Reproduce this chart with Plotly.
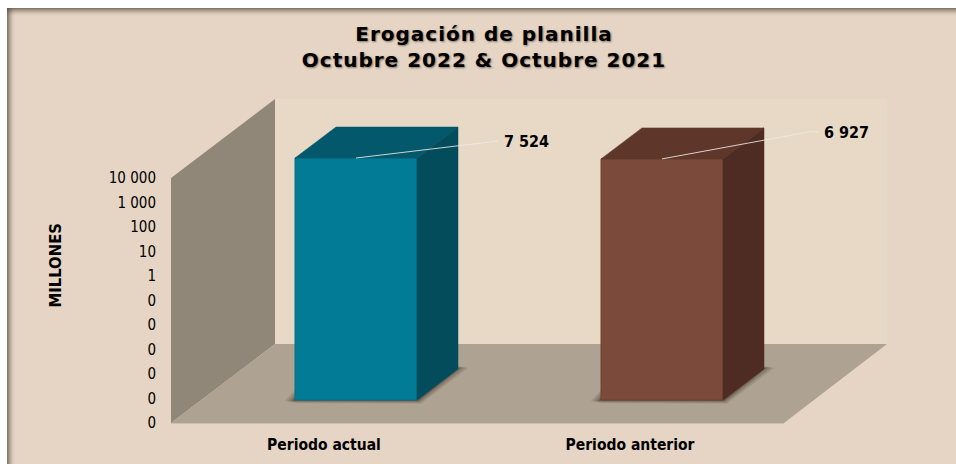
import plotly.graph_objects as go

categories = ["Periodo actual", "Periodo anterior"]
values = [7524, 6927]
value_labels = ["7 524", "6 927"]
tick_values = [1e4, 1e3, 1e2, 1e1, 1, 1e-1, 1e-2, 1e-3, 1e-4, 1e-5, 1e-6]
tick_labels = ["10 000", "1 000", "100", "10", "1", "0", "0", "0", "0", "0", "0"]
front_colors = ["#027C96", "#7B4A3A"]
edge_colors = ["#066E85", "#70422F"]
top_colors = ["#03596B", "#5E362A"]
side_colors = ["#024C5C", "#4F2C23"]
# leader end points in px relative to top-centre of each bar
leader_bends = [[(142, -17), (142, -17)], [(147, -27), (157, -27)]]
label_gap = [6, 5]
label_drop = [2, 2.5]

W, H = 956, 464
AX_BASE = 423       # px of 1e-6 on the wall-plane axis
DEC = 24.5          # px per decade
FRONT_SHIFT = 23    # front plane is this many px above the wall-plane axis
X0, XSTEP = 356, 306
BAR_W = 122 / XSTEP
DX, DY = 41, 31     # bar depth in px
BASE = 1e-6
LABEL_SHIFT = -32   # category labels sit left of the bars in the 3D projection
COND = "DejaVu Sans Condensed"


def xr(px):
    return (px - X0) / XSTEP


def up(v, px):
    return v * 10 ** (px / DEC)


def P(x, y):
    return x / W, 1 - y / H


def poly(points, color, opacity=1.0):
    s = "M " + " L ".join("%.5f,%.5f" % P(*p) for p in points) + " Z"
    return dict(type="path", xref="paper", yref="paper", path=s, fillcolor=color,
                line=dict(width=0), layer="below", opacity=opacity)


BG = "#E6D5C4"
shapes = [poly([(7, 8), (956, 8), (956, 464), (7, 464)], BG)]
# inner shadow of the frame
for i, a in enumerate([0.62, 0.5, 0.38, 0.28, 0.18, 0.1, 0.05, 0.02]):
    shapes.append(poly([(7, 8 + i), (956, 8 + i), (956, 9 + i), (7, 9 + i)], "#4A3F33", a))
    shapes.append(poly([(7 + i, 8), (8 + i, 8), (8 + i, 464), (7 + i, 464)], "#4A3F33", a))
# chart box
shapes.append(poly([(275, 99), (887, 99), (887, 344), (275, 344)], "#E7D9C6"))
shapes.append(poly([(171, 178), (275, 99), (275, 344), (171, 423)], "#918779"))
shapes.append(poly([(171, 423), (275, 344), (887, 344), (784, 423)], "#AEA292"))
shapes.append(poly([(171, 423), (784, 423), (784, 424), (171, 424)], "#CDBFAF"))
# soft contact shadows
for i in range(len(values)):
    c = X0 + XSTEP * i
    l, r = c - 61, c + 61
    for g, a in [(10, 0.14), (7, 0.2), (4, 0.28), (2, 0.36)]:
        shapes.append(poly([(l - g, 401), (l, 400 - g), (r, 400 - g), (r + DX, 369 - g * 0.3),
                            (r + DX + g, 367 + g * 0.1), (r + g * 0.4, 400 + g * 0.35),
                            (l, 400 + g * 0.3)], "#3A3025", a))

fig = go.Figure()
xs = list(range(len(values)))

# invisible trace that carries the tick axis
fig.add_trace(go.Scatter(x=[xr(171)] * len(tick_values), y=tick_values, mode="none",
                         hoverinfo="skip", showlegend=False))

# front faces
fig.add_trace(go.Bar(x=xs, y=values, base=[BASE] * len(values), width=BAR_W, yaxis="y2",
                     marker=dict(color=front_colors, line=dict(color=edge_colors, width=1)),
                     hoverinfo="skip", showlegend=False))

# top and side faces, derived from values
dx = DX / XSTEP
for i, v in enumerate(values):
    l, r = i - BAR_W / 2, i + BAR_W / 2
    fig.add_trace(go.Scatter(x=[l, r, r + dx, l + dx, l], y=[v, v, up(v, DY), up(v, DY), v],
                             yaxis="y2", mode="lines", fill="toself", fillcolor=top_colors[i],
                             line=dict(width=0.5, color=top_colors[i]), hoverinfo="skip", showlegend=False))
    fig.add_trace(go.Scatter(x=[r, r + dx, r + dx, r, r], y=[v, up(v, DY), up(BASE, DY), BASE, v],
                             yaxis="y2", mode="lines", fill="toself", fillcolor=side_colors[i],
                             line=dict(width=0.5, color=side_colors[i]), hoverinfo="skip", showlegend=False))

# leader lines and value labels
for i, v in enumerate(values):
    lx = [i] + [i + b[0] / XSTEP for b in leader_bends[i]]
    ly = [v] + [up(v, -b[1]) for b in leader_bends[i]]
    fig.add_trace(go.Scatter(x=lx, y=ly, yaxis="y2", mode="lines",
                             line=dict(color="rgba(240,235,228,0.85)", width=1),
                             hoverinfo="skip", showlegend=False))
    fig.add_trace(go.Scatter(x=[lx[-1] + label_gap[i] / XSTEP], y=[up(ly[-1], -label_drop[i])], yaxis="y2",
                             mode="text", text=[value_labels[i]], textposition="middle right",
                             textfont=dict(family=COND, size=16, color="#000000", weight=700),
                             hoverinfo="skip", showlegend=False))

fig.update_layout(
    width=W, height=H, margin=dict(l=0, r=0, t=0, b=0), autosize=False,
    paper_bgcolor="#FFFFFF", plot_bgcolor="rgba(0,0,0,0)", showlegend=False,
    shapes=shapes,
    title=dict(text="Erogación de planilla<br>Octubre 2022 &amp; Octubre 2021",
               x=484 / W, xanchor="center", y=1 - 41 / H, yanchor="top",
               font=dict(family="DejaVu Sans", size=20, color="#000000", weight=700,
                         shadow="1px 1px 2px rgba(60,50,40,0.6)")),
    xaxis=dict(domain=[0, 1], range=[xr(0), xr(W)], tickmode="array",
               tickvals=[i + LABEL_SHIFT / XSTEP for i in xs], ticktext=categories,
               anchor="free", position=(H - 433) / H, showgrid=False, zeroline=False, showline=False,
               ticks="", tickfont=dict(family=COND, size=15.5, color="#000000", weight=700)),
    yaxis=dict(type="log", domain=[0, 1], anchor="free", position=171 / W,
               range=[-6 - (H - AX_BASE) / DEC, -6 + AX_BASE / DEC],
               tickmode="array", tickvals=tick_values, ticktext=tick_labels,
               showgrid=False, zeroline=False, showline=False, ticks="outside", ticklen=12,
               tickcolor="rgba(0,0,0,0)", tickfont=dict(family=COND, size=15, color="#000000")),
    yaxis2=dict(type="log", domain=[0, 1], overlaying="y", anchor="x", visible=False,
                range=[-6 - (H - AX_BASE + FRONT_SHIFT) / DEC, -6 + (AX_BASE - FRONT_SHIFT) / DEC]),
    annotations=[dict(text="MILLONES", xref="paper", yref="paper", x=54.5 / W, y=1 - 265 / H,
                      xanchor="center", yanchor="middle", textangle=-90, showarrow=False,
                      font=dict(family=COND, size=16.5, color="#000000", weight=700))],
)

fig.write_html("out.html", config=dict(displayModeBar=False),
               post_script="document.body.style.margin='0';"
                           "document.querySelectorAll('.gtitle').forEach(function(t){t.style.letterSpacing='1px';});")
